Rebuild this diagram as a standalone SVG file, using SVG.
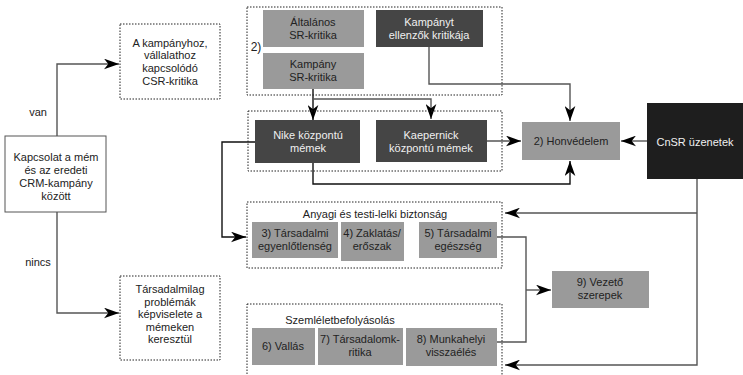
<svg xmlns="http://www.w3.org/2000/svg" width="743" height="375" viewBox="0 0 743 375">
<defs>
<marker id="ah" viewBox="0 0 14 10" refX="14" refY="5" markerWidth="15" markerHeight="11" markerUnits="userSpaceOnUse" orient="auto">
<path d="M0,0 L14,5 L0,10 L4,5 Z" fill="#000"/>
</marker>
</defs>
<style>
text{font-family:"Liberation Sans",Arial,sans-serif;font-size:11px;text-anchor:middle;fill:#222}
.w{fill:#f0f0f0}
.dash{fill:none;stroke:#222;stroke-width:1;stroke-dasharray:1.5,1.5}
.lg{fill:#9a9a9a}
.dk{fill:#454545}
.bk{fill:#1e1e1e}
.wb{fill:#fff;stroke:#555;stroke-width:1}
.c{fill:none;stroke:#555;stroke-width:1.4}
.cb{fill:none;stroke:#111;stroke-width:1.4}
.a{marker-end:url(#ah)}
</style>
<rect width="743" height="375" fill="#fff"/>

<g id="connectors">
<path class="c a" d="M57,136 V64 H119"/>
<path class="c a" d="M57,212 V313 H119"/>
<path class="cb a" d="M313,89 V120"/>
<path class="c a" d="M313,99 H431 V119"/>
<path class="c a" d="M429,47 V84 H570 V121"/>
<path class="c a" d="M487,141 H521"/>
<path class="c a" d="M647,141 H621"/>
<path class="cb a" d="M313,163 V184 H570 V161"/>
<path class="cb a" d="M255,142 H222 V237 H246"/>
<path class="c a" d="M697,179 V365 H505"/>
<path class="c a" d="M697,213 H505"/>
<path class="c" d="M497,237 H526 V342 H497"/>
<path class="c a" d="M526,290 H551"/>
</g>

<g id="labels">
<text x="38" y="116">van</text>
<text x="38" y="266">nincs</text>
</g>

<g id="kapcsolat">
<rect class="wb" x="5" y="136" width="101" height="76"/>
<text x="56" y="161">Kapcsolat a mém</text>
<text x="56" y="174">és az eredeti</text>
<text x="56" y="187">CRM-kampány</text>
<text x="56" y="200">között</text>
</g>

<g id="kampanyhoz">
<rect class="dash" x="120" y="24" width="100" height="75"/>
<text x="170" y="47">A kampányhoz,</text>
<text x="170" y="59">vállalathoz</text>
<text x="170" y="72">kapcsolódó</text>
<text x="170" y="85">CSR-kritika</text>
</g>

<g id="tarsadalmilag">
<rect class="dash" x="120" y="276" width="100" height="84"/>
<text x="170" y="293">Társadalmilag</text>
<text x="170" y="306">problémák</text>
<text x="170" y="318">képviselete a</text>
<text x="170" y="331">mémeken</text>
<text x="170" y="343">keresztül</text>
</g>

<g id="group-kritika">
<rect class="dash" x="247" y="7" width="255" height="88"/>
<text x="256" y="51" style="font-size:12px">2)</text>
</g>
<g id="altalanos">
<rect class="lg" x="263" y="10" width="101" height="37"/>
<text x="313" y="26">Általános</text>
<text x="313" y="39">SR-kritika</text>
</g>
<g id="kampanyt-ellenzok">
<rect class="dk" x="376" y="10" width="107" height="37"/>
<text class="w" x="429" y="26">Kampányt</text>
<text class="w" x="429" y="39">ellenzők kritikája</text>
</g>
<g id="kampany-sr">
<rect class="lg" x="263" y="53" width="101" height="36"/>
<text x="313" y="68">Kampány</text>
<text x="313" y="81">SR-kritika</text>
</g>

<g id="group-memek">
<rect class="dash" x="248" y="111" width="254" height="60"/>
</g>
<g id="nike">
<rect class="dk" x="255" y="120" width="105" height="43"/>
<text class="w" x="308" y="139">Nike központú</text>
<text class="w" x="308" y="152">mémek</text>
</g>
<g id="kaepernick">
<rect class="dk" x="376" y="120" width="111" height="42"/>
<text class="w" x="431" y="139">Kaepernick</text>
<text class="w" x="431" y="152">központú mémek</text>
</g>

<g id="honvedelem">
<rect class="lg" x="522" y="122" width="98" height="38"/>
<text x="571" y="145">2) Honvédelem</text>
</g>

<g id="cnsr">
<rect class="bk" x="647" y="103" width="96" height="76"/>
<text class="w" x="695" y="146">CnSR üzenetek</text>
</g>

<g id="group-anyagi">
<rect class="dash" x="247" y="202" width="255" height="66"/>
<text x="375" y="218">Anyagi és testi-lelki biztonság</text>
</g>
<g id="tarsadalmi-egyenlotlenseg">
<rect class="lg" x="252" y="222" width="86" height="36"/>
<text x="295" y="237">3) Társadalmi</text>
<text x="295" y="250">egyenlőtlenség</text>
</g>
<g id="zaklatas">
<rect class="lg" x="341" y="222" width="63" height="39"/>
<text x="372" y="237">4) Zaklatás/</text>
<text x="372" y="250">erőszak</text>
</g>
<g id="tarsadalmi-egeszseg">
<rect class="lg" x="419" y="222" width="78" height="36"/>
<text x="458" y="237">5) Társadalmi</text>
<text x="458" y="250">egészség</text>
</g>

<g id="group-szemlelet">
<rect class="dash" x="247" y="304" width="255" height="80"/>
<text x="340" y="324">Szemléletbefolyásolás</text>
</g>
<g id="vallas">
<rect class="lg" x="252" y="328" width="63" height="37"/>
<text x="283" y="350">6) Vallás</text>
</g>
<g id="tarsadalomkritika">
<rect class="lg" x="318" y="328" width="85" height="37"/>
<text x="360" y="343">7) Társadalomk-</text>
<text x="360" y="356">ritika</text>
</g>
<g id="munkahelyi">
<rect class="lg" x="406" y="328" width="91" height="38"/>
<text x="451" y="343">8) Munkahelyi</text>
<text x="451" y="356">visszaélés</text>
</g>

<g id="vezeto">
<rect class="lg" x="552" y="271" width="97" height="37"/>
<text x="600" y="286">9) Vezető</text>
<text x="600" y="299">szerepek</text>
</g>
</svg>
